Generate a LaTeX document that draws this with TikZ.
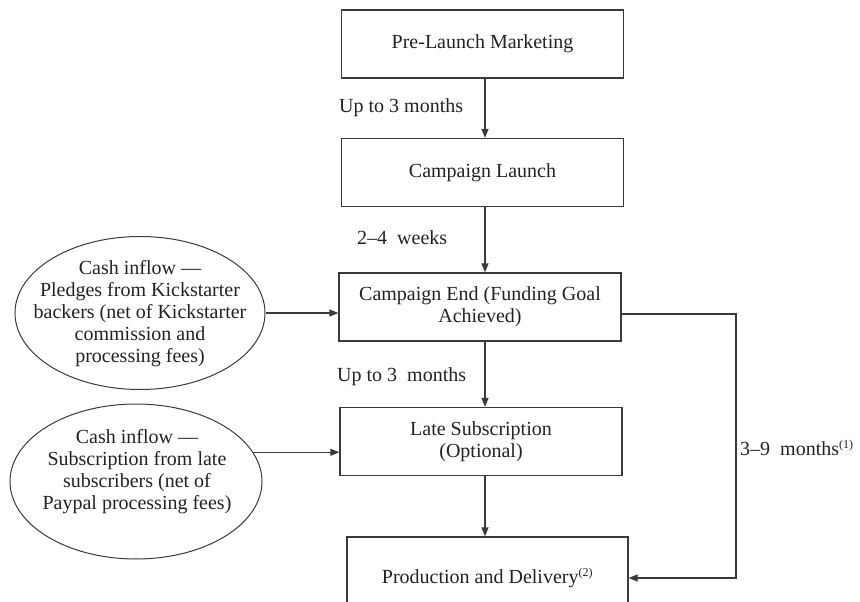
\documentclass[tikz,border=0pt]{standalone}
\usepackage{fontspec}
\setmainfont{Liberation Serif}
\usetikzlibrary{arrows.meta,shapes.geometric}
\definecolor{ink}{HTML}{222222}
\definecolor{rule}{HTML}{3A3A3A}
\tikzset{
  stage/.style={draw=rule, line width=1.3pt, rectangle, minimum width=282pt,
    minimum height=68pt, inner sep=0pt, align=center, text=ink},
  inflow/.style={draw=rule, line width=1pt, ellipse, inner sep=0pt},
  inflowtext/.style={inner sep=0pt, align=center, text=ink},
  lbl/.style={anchor=west, inner sep=0pt, text=ink},
  flow/.style={draw=rule, line width=1.3pt,
    -{Triangle[length=9pt,width=7pt]}},
}
\begin{document}
\begin{tikzpicture}[x=1pt,y=-1pt,
  every node/.append style={font=\fontsize{20}{22}\selectfont}]
\useasboundingbox (0,0) rectangle (860,602);
\clip (0,0) rectangle (860,602);

% process stages
\node[stage] (pre)    at (482.5,44)  {Pre-Launch Marketing};
\node[stage] (launch) at (482.5,172.5) {Campaign Launch};
\node[stage] (end)    at (480,307)   {Campaign End (Funding Goal\\Achieved)};
\node[stage] (late)   at (481,441.5) {Late Subscription\\(Optional)};
\node[stage, minimum width=281pt, minimum height=82pt] (prod) at (487.5,578)
  {Production and Delivery\textsuperscript{\fontsize{12}{12}\selectfont(2)}};

% cash inflows
\node[inflow, minimum width=250pt, minimum height=153pt] (cash1) at (140,313) {};
\node[inflowtext] (cash1txt) at (140,314)
  {Cash inflow ---\\Pledges from Kickstarter\\backers (net of Kickstarter\\commission and\\processing fees)};
\node[inflow, minimum width=252pt, minimum height=155pt] (cash2) at (136,481.5) {};
\node[inflowtext] (cash2txt) at (137,472)
  {Cash inflow ---\\Subscription from late\\subscribers (net of\\Paypal processing fees)};

% timing labels
\node[lbl] (t1) at (339,108) {Up to 3 months};
\node[lbl] (t2) at (357,238) {2--4\ \ weeks};
\node[lbl] (t3) at (337,377) {Up to 3\ \ months};
\node[lbl] (t4) at (740,448) {3--9\ \ months\textsuperscript{\fontsize{12}{12}\selectfont(1)}};

% connectors
\coordinate (bend) at (736,314);
\draw[flow] (pre.south -| 485,0) -- (launch.north -| 485,0);
\draw[flow] (launch.south -| 485,0) -- (end.north -| 485,0);
\draw[flow] (end.south -| 485,0) -- (late.north -| 485,0);
\draw[flow] (late.south -| 485,0) -- (prod.north -| 485,0);
\draw[flow] (cash1.east) -- (end.west |- cash1.east);
\draw[flow] (cash2.14.2) -- (late.west |- cash2.14.2);
\draw[flow] (end.east |- bend) -- (bend) |- (prod.east);
\end{tikzpicture}
\end{document}
